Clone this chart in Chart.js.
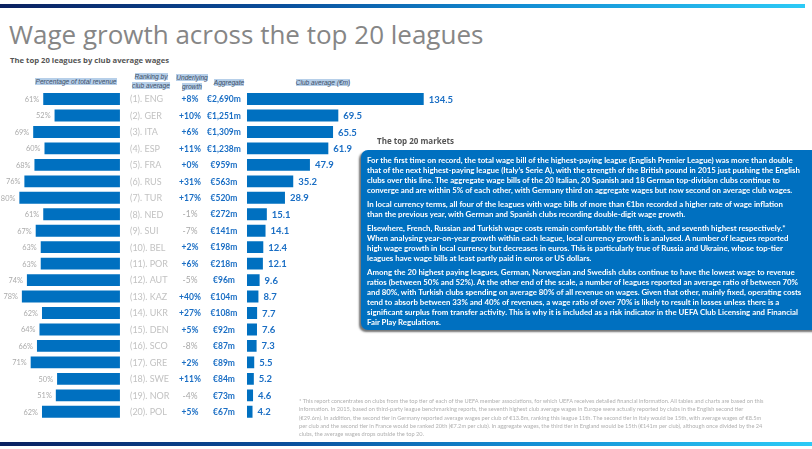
<!DOCTYPE html>
<html>
<head>
<meta charset="utf-8">
<script src="https://cdn.jsdelivr.net/npm/chart.js@4"></script>
<style>
  html, body { margin: 0; padding: 0; background: #fff; }
  body { width: 812px; height: 449px; position: relative; overflow: hidden; font-family: Lato, sans-serif; }
  .rule { position: absolute; left: 0; height: 4px;
    background: linear-gradient(to right, #0b2160, #0a4f9c 35%, #138ed4 65%, #2ccaf6); }
  #title { position: absolute; left: 9px; top: 16px; font: 400 26px 'Open Sans', sans-serif; color: #868686; white-space: nowrap; }
  #subtitle { position: absolute; left: 10px; top: 55px; font: 700 7.7px 'Open Sans', sans-serif; color: #555; white-space: nowrap; }
  .hd { position: absolute; font: italic 6.6px 'Liberation Sans', sans-serif; color: #3c4e66; text-align: center; line-height: 9px; }
  .hd span { background: #b6cfe9; }
  #chartBox { position: absolute; left: 0; top: 85px; width: 460px; height: 340px; }
  #boxTitle { position: absolute; left: 377px; top: 135px; font: 700 8px 'Open Sans', sans-serif; color: #555; }
  #box { position: absolute; left: 361px; top: 150px; width: 470px; height: 180px; background: #0070c0;
    border-radius: 7px; box-shadow: -2px 2px 2px rgba(0,0,0,0.55); }
  #boxText { position: absolute; left: 6px; top: 6px; color: #fff; font: 700 7.85px Lato, sans-serif; line-height: 9.9px; }
  #boxText p { margin: 0 0 4.4px 0; white-space: pre; }
  #foot { position: absolute; left: 299px; top: 397px; color: #b0b0b0; font: 400 5.65px Lato, sans-serif; line-height: 8.35px; white-space: pre; }
</style>
</head>
<body>
<div class="rule" style="top:4px; width:805px;"></div>
<div id="title">Wage growth across the top 20 leagues</div>
<div id="subtitle">The top 20 leagues by club average wages</div>

<div class="hd" style="left:31px; top:77px; width:90px;"><span>Percentage of total revenue</span></div>
<div class="hd" style="left:128px; top:72px; width:46px;"><span>Ranking by</span><br><span>club average</span></div>
<div class="hd" style="left:172px; top:73px; width:40px;"><span>Underlying</span><br><span>growth</span></div>
<div class="hd" style="left:210px; top:78px; width:38px;"><span>Aggregate</span></div>
<div class="hd" style="left:290px; top:78px; width:66px;"><span>Club average (€m)</span></div>

<div id="chartBox"><canvas id="wages"></canvas></div>

<div id="boxTitle">The top 20 markets</div>
<div id="box"><div id="boxText">
<p>For the first time on record, the total wage bill of the highest-paying league (English Premier League) was more than double
that of the next highest-paying league (Italy’s Serie A), with the strength of the British pound in 2015 just pushing the English
clubs over this line. The aggregate wage bills of the 20 Italian, 20 Spanish and 18 German top-division clubs continue to
converge and are within 5% of each other, with Germany third on aggregate wages but now second on average club wages.</p>
<p>In local currency terms, all four of the leagues with wage bills of more than €1bn recorded a higher rate of wage inflation
than the previous year, with German and Spanish clubs recording double-digit wage growth.</p>
<p>Elsewhere, French, Russian and Turkish wage costs remain comfortably the fifth, sixth, and seventh highest respectively.*
When analysing year-on-year growth within each league, local currency growth is analysed. A number of leagues reported
high wage growth in local currency but decreases in euros. This is particularly true of Russia and Ukraine, whose top-tier
leagues have wage bills at least partly paid in euros or US dollars.</p>
<p>Among the 20 highest paying leagues, German, Norwegian and Swedish clubs continue to have the lowest wage to revenue
ratios (between 50% and 52%). At the other end of the scale, a number of leagues reported an average ratio of between 70%
and 80%, with Turkish clubs spending on average 80% of all revenue on wages. Given that other, mainly fixed, operating costs
tend to absorb between 33% and 40% of revenues, a wage ratio of over 70% is likely to result in losses unless there is a
significant surplus from transfer activity. This is why it is included as a risk indicator in the UEFA Club Licensing and Financial
Fair Play Regulations.</p>
</div></div>

<div id="foot">* This report concentrates on clubs from the top tier of each of the UEFA member associations, for which UEFA receives detailed financial information. All tables and charts are based on this
information. In 2015, based on third-party league benchmarking reports, the seventh highest club average wages in Europe were actually reported by clubs in the English second tier
(€29.6m). In addition, the second tier in Germany reported average wages per club of €13.8m, ranking this league 11th. The second tier in Italy would be 15th, with average wages of €8.5m
per club and the second tier in France would be ranked 20th (€7.2m per club). In aggregate wages, the third tier in England would be 15th (€141m per club), although once divided by the 24
clubs, the average wages drops outside the top 20.</div>

<div class="rule" style="top:442px; width:812px;"></div>

<script>
// league codes in club-average order
const leagues = ['ENG', 'GER', 'ITA', 'ESP', 'FRA', 'RUS', 'TUR', 'NED', 'SUI', 'BEL',
                 'POR', 'AUT', 'KAZ', 'UKR', 'DEN', 'SCO', 'GRE', 'SWE', 'NOR', 'POL'];
// wages as % of total revenue
const revenuePct = [61, 52, 69, 60, 68, 76, 80, 61, 67, 63, 63, 74, 78, 62, 64, 66, 71, 50, 51, 62];
// underlying growth (%)
const growth = [8, 10, 6, 11, 0, 31, 17, -1, -7, 2, 6, -5, 40, 27, 5, -8, 2, 11, -4, 5];
// aggregate wages (€m)
const aggregate = [2690, 1251, 1309, 1238, 959, 563, 520, 272, 141, 198,
                   218, 96, 104, 108, 92, 87, 89, 84, 73, 67];
// club average wages (€m)
const clubAverage = [134.5, 69.5, 65.5, 61.9, 47.9, 35.2, 28.9, 15.1, 14.1, 12.4,
                     12.1, 9.6, 8.7, 7.7, 7.6, 7.3, 5.5, 5.2, 4.6, 4.2];

const BLUE = '#0070c0';
const TEXT_BLUE = '#1a6ec4';

// ─── Column texts drawn from the y scale ─────────────────────────────────────
const columnLabels = {
  id: 'columnLabels',
  afterDatasetsDraw(chart, args, opts) {
    const { ctx } = chart;
    const y = chart.scales.y, xl = chart.scales.xl, xr = chart.scales.xr;
    ctx.save();
    ctx.textBaseline = 'middle';
    leagues.forEach((code, i) => {
      const py = y.getPixelForValue(i) + 0.5;

      ctx.font = '400 7.4px Lato';
      ctx.fillStyle = '#ababab';
      ctx.textAlign = 'right';
      ctx.fillText(revenuePct[i] + '%', xl.getPixelForValue(revenuePct[i]) - 4, py);

      ctx.font = '400 9px Lato';
      ctx.fillStyle = '#c2c2c2';
      ctx.textAlign = 'left';
      ctx.fillText(`(${i + 1}). ${code}`, opts.rankX, py);

      const g = growth[i];
      ctx.textAlign = 'center';
      ctx.font = g < 0 ? '400 8.5px Lato' : '700 8.5px Lato';
      ctx.fillStyle = g < 0 ? '#a8a8a8' : TEXT_BLUE;
      ctx.fillText((g < 0 ? '-' : '+') + Math.abs(g) + '%', opts.growthX, py);

      ctx.font = '700 8.5px Lato';
      ctx.fillStyle = TEXT_BLUE;
      ctx.fillText('€' + aggregate[i].toLocaleString('en-US') + 'm', opts.aggX, py);

      ctx.font = '700 9.5px Lato';
      ctx.textAlign = 'left';
      ctx.fillText(clubAverage[i].toFixed(1), xr.getPixelForValue(clubAverage[i]) + 5, py);
    });
    ctx.restore();
  },
};

new Chart(document.getElementById('wages'), {
  type: 'bar',
  data: {
    labels: leagues,
    datasets: [
      {
        data: revenuePct,
        xAxisID: 'xl',
        backgroundColor: BLUE,
        grouped: false,
        barPercentage: 0.72,
        categoryPercentage: 1,
      },
      {
        data: clubAverage,
        xAxisID: 'xr',
        backgroundColor: BLUE,
        grouped: false,
        barPercentage: 0.72,
        categoryPercentage: 1,
      },
    ],
  },
  options: {
    indexAxis: 'y',
    responsive: true,
    maintainAspectRatio: false,
    animation: false,
    layout: { padding: { left: 0, right: 20, top: 5.8, bottom: 5 } },
    plugins: {
      legend: { display: false },
      tooltip: { enabled: false },
      columnLabels: { rankX: 130, growthX: 190, aggX: 224 },
    },
    scales: {
      y: { display: false },
      // left bars: 0 at x=120, growing leftwards
      xl: { type: 'linear', display: false, reverse: true, bounds: 'data', min: -254.6, max: 95.4 },
      // right bars: 0 at x=247
      xr: { type: 'linear', display: false, bounds: 'data', min: -188, max: 146.9 },
    },
  },
  plugins: [columnLabels],
});
</script>
</body>
</html>
